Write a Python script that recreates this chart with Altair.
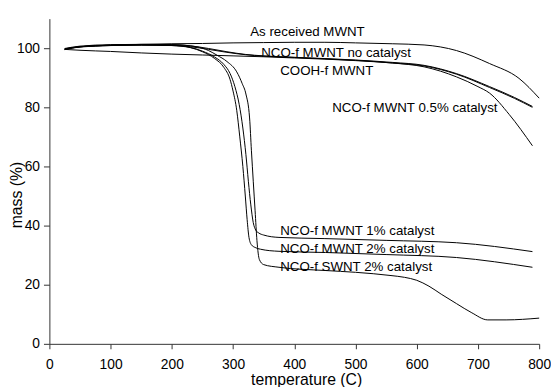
import altair as alt
import pandas as pd

# ---- curve data (temperature in C, mass in %) ----
series_names = [
    "As received MWNT",
    "NCO-f MWNT no catalyst",
    "COOH-f MWNT",
    "NCO-f MWNT 0.5% catalyst",
    "NCO-f MWNT 1% catalyst",
    "NCO-f MWNT 2% catalyst",
    "NCO-f SWNT 2% catalyst",
]

t_as_received = [25, 50, 100, 150, 200, 250, 300, 350, 400, 450, 500, 560, 612, 665, 719, 767, 800]
m_as_received = [99.5, 100.5, 101.0, 101.3, 101.5, 101.6, 101.8, 101.9, 102.0, 102.0, 101.8, 101.5, 101.1, 99.2, 94.8, 89.8, 83.1]

t_no_cat = [25, 50, 100, 150, 200, 230, 260, 290, 320, 350, 400, 450, 500, 560, 612, 665, 719, 760, 789]
m_no_cat = [99.8, 100.5, 100.9, 101.0, 100.9, 100.5, 99.6, 98.6, 97.8, 97.3, 96.9, 96.5, 96.0, 95.2, 94.2, 91.4, 87.0, 83.3, 80.3]

t_cooh = [25, 50, 100, 150, 200, 250, 300, 350, 400, 450, 500, 560, 612, 665, 719, 760, 789]
m_cooh = [99.6, 99.3, 98.9, 98.4, 98.0, 97.7, 97.4, 97.1, 96.7, 96.3, 95.8, 95.0, 94.0, 91.2, 86.7, 83.0, 80.0]

t_cat05 = [25, 50, 100, 150, 200, 230, 260, 290, 320, 350, 400, 450, 500, 560, 612, 665, 700, 719, 751, 789]
m_cat05 = [99.9, 100.7, 101.2, 101.3, 101.2, 100.8, 99.9, 98.8, 97.9, 97.4, 96.9, 96.4, 95.9, 95.0, 93.7, 90.3, 87.0, 84.8, 77.6, 67.0]

t_cat1 = [25, 50, 100, 150, 200, 230, 250, 270, 285, 295, 303, 310, 316, 321, 325, 329, 333, 337, 342, 350, 375, 450, 550, 665, 789]
m_cat1 = [99.7, 100.5, 101.0, 101.2, 101.0, 100.3, 99.0, 97.0, 94.5, 91.5, 87.0, 81.0, 73.0, 64.0, 55.0, 47.0, 41.0, 38.5, 37.5, 36.8, 36.0, 35.6, 35.0, 34.2, 31.2]

t_cat2 = [25, 50, 100, 150, 200, 230, 250, 270, 285, 295, 300, 306, 311, 316, 320, 323, 326, 330, 336, 345, 375, 451, 550, 665, 789]
m_cat2 = [99.6, 100.4, 100.9, 101.1, 100.9, 100.2, 98.8, 96.5, 93.5, 89.5, 85.5, 79.0, 70.0, 60.0, 50.0, 42.0, 36.0, 33.5, 32.6, 32.0, 31.3, 30.9, 30.2, 29.2, 25.9]

t_swnt = [25, 50, 100, 150, 200, 240, 260, 274, 290, 306, 315, 321, 327, 330, 333, 336, 339, 343, 350, 375, 451, 500, 558, 580, 600, 620, 640, 665, 690, 716, 746, 800]
m_swnt = [99.6, 100.5, 101.0, 101.2, 101.2, 100.5, 99.2, 97.6, 95.5, 92.0, 88.0, 84.5, 76.4, 65.3, 55.0, 45.0, 35.0, 28.5, 26.8, 25.9, 24.8, 24.2, 23.1, 22.5, 21.5, 19.5, 16.8, 13.6, 10.5, 8.1, 8.1, 8.7]

all_t = [t_as_received, t_no_cat, t_cooh, t_cat05, t_cat1, t_cat2, t_swnt]
all_m = [m_as_received, m_no_cat, m_cooh, m_cat05, m_cat1, m_cat2, m_swnt]

# ---- in-plot labels (anchored at left edge, in data units) ----
label_text = series_names
label_t = [328, 346, 377, 462, 377, 377, 377]
label_m = [105.3, 98.3, 92.3, 79.6, 38.1, 32.2, 26.1]

x_ticks = [0, 100, 200, 300, 400, 500, 600, 700, 800]
y_ticks = [0, 20, 40, 60, 80, 100]

rows = []
for name, ts, ms in zip(series_names, all_t, all_m):
    for i, (t, m) in enumerate(zip(ts, ms)):
        rows.append({"series": name, "T": t, "mass": m, "i": i})
df = pd.DataFrame(rows)

lab_df = pd.DataFrame({"label": label_text, "T": label_t, "mass": label_m})

FONT = "Liberation Sans"
x_scale = alt.Scale(domain=[0, 800], nice=False, zero=False)
y_scale = alt.Scale(domain=[0, 110], nice=False)

lines = alt.Chart(df).mark_line(color="black", strokeWidth=1, interpolate="monotone").encode(
    x=alt.X("T:Q", scale=x_scale,
            axis=alt.Axis(title="temperature (C)", values=x_ticks, format="d",
                          tickSize=5, labelPadding=9, labelFlush=False, labelOverlap=False,
                          titleX=260.5, titleY=41, titleAlign="center",
                          titleBaseline="alphabetic")),
    y=alt.Y("mass:Q", scale=y_scale,
            axis=alt.Axis(title="mass (%)", values=y_ticks, format="d",
                          tickSize=6, labelPadding=4, labelFlush=False, labelOverlap=False,
                          titleX=-28, titleY=178.5, titleAngle=270, titleAlign="center",
                          titleBaseline="alphabetic")),
    detail="series:N",
    order="i:Q",
)

labels = alt.Chart(lab_df).mark_text(
    align="left", baseline="middle", font=FONT, fontSize=13.5, color="black"
).encode(
    x=alt.X("T:Q", scale=x_scale),
    y=alt.Y("mass:Q", scale=y_scale),
    text="label:N",
)

chart = alt.layer(lines, labels).properties(
    width=497,
    height=330,
    autosize=alt.AutoSizeParams(type="none"),
    padding={"left": 42, "top": 8, "right": 12, "bottom": 41},
    background="white",
).configure_view(
    stroke=None
).configure_axis(
    grid=False,
    domainColor="#333333",
    tickColor="#333333",
    labelFont=FONT,
    labelFontSize=14,
    labelColor="black",
    titleFont=FONT,
    titleFontSize=16,
    titleFontWeight="normal",
    titleColor="black",
)

chart.save("out.html", embed_options={"renderer": "svg", "actions": False})
